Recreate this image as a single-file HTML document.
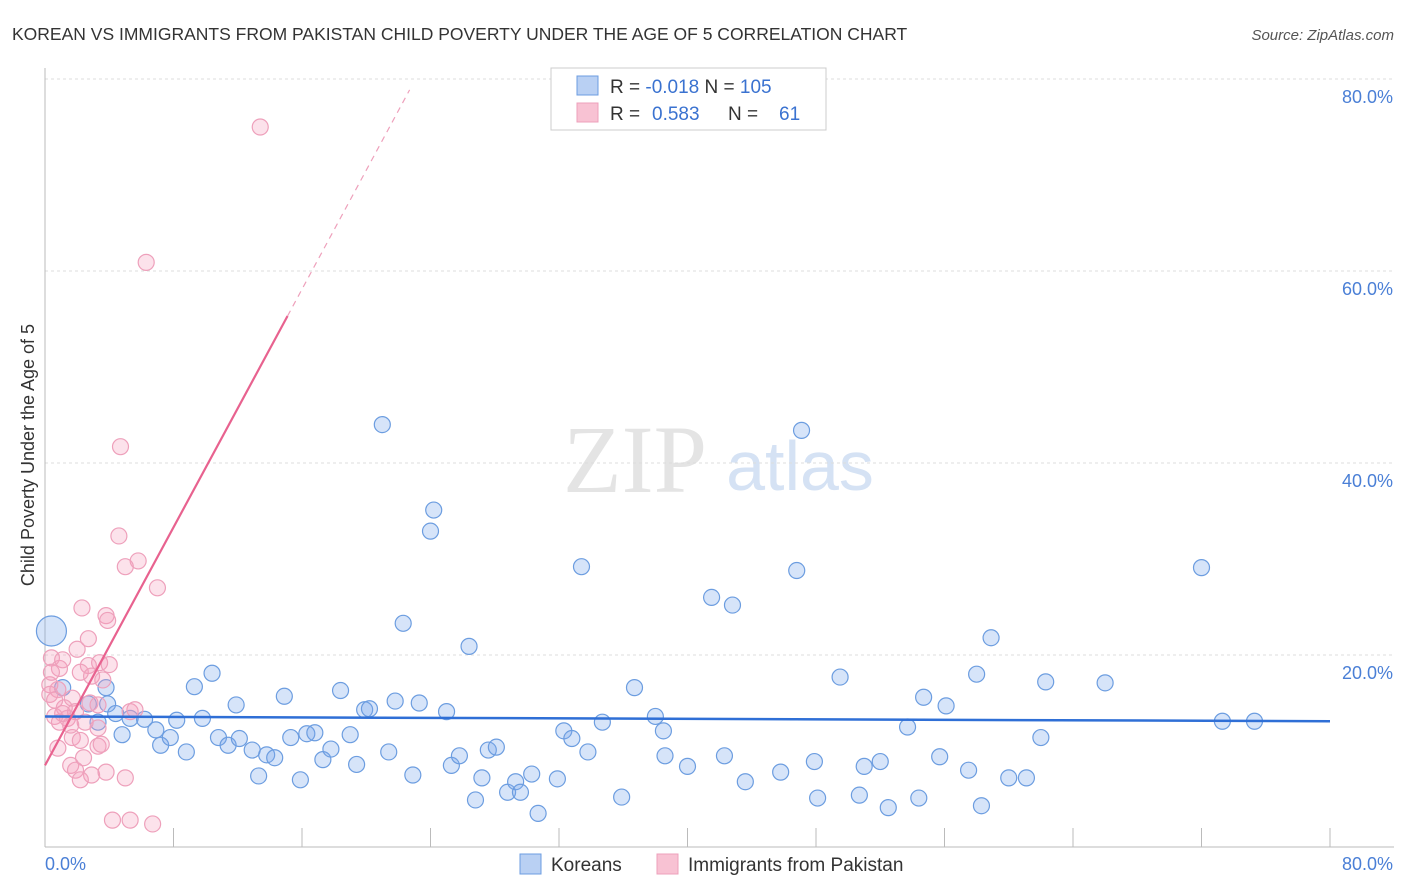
<!DOCTYPE html>
<html><head><meta charset="utf-8">
<style>
body{margin:0;background:#fff;font-family:"Liberation Sans",sans-serif;}
svg{display:block}
</style></head>
<body>
<svg id="chart" width="1406" height="892" xmlns="http://www.w3.org/2000/svg">
<text x="12" y="40" font-size="17.5" fill="#333">KOREAN VS IMMIGRANTS FROM PAKISTAN CHILD POVERTY UNDER THE AGE OF 5 CORRELATION CHART</text>
<text x="1394" y="40" font-size="15" fill="#555" font-style="italic" text-anchor="end">Source: ZipAtlas.com</text>
<text x="635" y="492" font-size="96" fill="#e4e4e4" font-family="Liberation Serif,serif" text-anchor="middle">ZIP</text>
<text x="800" y="490" font-size="70" fill="#d5e2f4" text-anchor="middle">atlas</text>
<g id="grid"></g>
<g id="marks"></g>
<text transform="translate(34,455) rotate(-90)" font-size="18" fill="#333" text-anchor="middle">Child Poverty Under the Age of 5</text>
<g>
<rect x="551" y="68" width="275" height="62" fill="#fff" stroke="#ccc"/>
<rect x="577" y="76" width="21" height="19" fill="#b9d0f3" stroke="#6c9de0"/>
<rect x="577" y="103" width="21" height="19" fill="#f8c2d3" stroke="#eea0bb"/>
<text x="610" y="93" font-size="19" fill="#333">R = <tspan fill="#3a72d0">-0.018</tspan>   N = <tspan fill="#3a72d0">105</tspan></text>
<text x="610" y="120" font-size="19" fill="#333">R =  <tspan fill="#3a72d0" x="652">0.583</tspan><tspan x="728">N =</tspan><tspan fill="#3a72d0" x="779">61</tspan></text>
</g>
<g>
<rect x="520" y="854" width="21" height="20" fill="#b9d0f3" stroke="#6c9de0"/>
<text x="551" y="871" font-size="19" fill="#333">Koreans</text>
<rect x="657" y="854" width="21" height="20" fill="#f8c2d3" stroke="#eea0bb"/>
<text x="688" y="871" font-size="19" fill="#333">Immigrants from Pakistan</text>
</g>
<text x="45" y="870" font-size="18" fill="#4a7fd6">0.0%</text>
<text x="1393" y="870" font-size="18" fill="#4a7fd6" text-anchor="end">80.0%</text>
</svg>
<script>
const yTicks=[20,40,60,80];
const xTickVals=[0,8,16,24,32,40,48,56,64,72,80];
const koreanX=[0.4,1.1,3.3,3.8,3.9,2.7,4.8,4.4,5.3,6.2,6.9,7.2,7.8,8.2,8.8,9.3,9.8,10.4,10.8,11.4,11.9,12.1,12.9,13.3,13.8,14.3,14.9,15.3,15.9,16.3,16.8,17.3,17.8,18.4,19.0,19.4,19.9,20.2,21.0,21.4,21.8,22.3,22.9,23.3,24.2,24.0,25.0,25.3,25.8,26.4,26.8,27.2,27.6,28.1,28.8,29.3,29.6,30.3,30.7,31.9,32.3,32.8,33.4,33.8,34.7,35.9,36.7,38.0,38.5,38.6,40.0,41.5,42.3,42.8,43.6,45.8,46.8,47.1,47.9,48.1,49.5,50.7,51.0,52.0,52.5,53.7,54.4,54.7,55.7,56.1,57.5,58.0,58.3,58.9,60.0,61.1,62.0,62.3,66.0,72.0,73.3,75.3];
const koreanY=[22.5,16.6,13.0,16.6,14.9,14.9,11.7,13.9,13.4,13.3,12.2,10.6,11.4,13.2,9.9,16.7,13.4,18.1,11.4,10.6,14.8,11.3,10.1,7.4,9.6,9.3,15.7,11.4,7.0,11.8,11.9,9.1,10.2,16.3,11.7,8.6,14.3,14.4,44.0,9.9,15.2,23.3,7.5,15.0,35.1,32.9,14.1,8.5,9.5,20.9,4.9,7.2,10.1,10.4,5.7,6.8,5.7,7.6,3.5,7.1,12.1,11.3,29.2,9.9,13.0,5.2,16.6,13.6,12.1,9.5,8.4,26.0,9.5,25.2,6.8,7.8,28.8,43.4,8.9,5.1,17.7,5.4,8.4,8.9,4.1,12.5,5.1,15.6,9.4,14.7,8.0,18.0,4.3,21.8,7.2,7.2,11.4,17.2,17.1,29.1,13.1,13.1];
const pakX=[13.4,6.3,4.7,4.6,5.8,5.0,7.0,2.3,3.8,3.9,2.7,2.0,0.4,3.4,4.0,2.7,0.9,2.2,2.9,3.6,0.3,0.8,1.7,2.8,3.3,1.2,1.9,0.6,1.4,0.9,3.3,5.3,1.7,2.2,0.8,3.3,2.4,1.6,1.9,2.9,3.8,5.0,4.2,5.3,6.7,0.3,0.4,1.1,2.5,1.6,3.5,0.6,5.6,2.2,1.1];
const pakY=[75.0,60.9,41.7,32.4,29.8,29.2,27.0,24.9,24.1,23.6,21.7,20.6,19.7,19.2,19.0,18.9,18.6,18.2,17.8,17.4,16.9,16.4,15.5,15.0,14.8,14.5,14.1,13.6,13.4,13.0,12.4,14.1,11.4,11.1,10.3,10.5,9.3,8.5,8.0,7.5,7.8,7.2,2.8,2.8,2.4,15.9,18.2,13.9,13.0,12.7,10.7,15.3,14.3,7.0,19.5];
const koreanTrend=[13.6,13.1];
const pakTrend=[8.5,3.1];
const NS="http://www.w3.org/2000/svg";
const sx=v=>45+v*(1285/80);
const sy=v=>847-v*9.6;
function mk(tag,attrs,parent){const e=document.createElementNS(NS,tag);for(const k in attrs)e.setAttribute(k,attrs[k]);parent.appendChild(e);return e;}
const grid=document.getElementById('grid'),marks=document.getElementById('marks');
yTicks.forEach(t=>{
 const l=mk('line',{x1:45,x2:1394,y1:sy(t),y2:sy(t),stroke:'#ddd','stroke-dasharray':'3,3'},grid);
 
 
 const tx=mk('text',{x:1393,y:sy(t)+24,'font-size':18,fill:'#4a7fd6','text-anchor':'end'},grid);
 tx.textContent=t.toFixed(1)+'%';
 
 
});
const ax=mk('line',{x1:45,x2:1394,y1:847,y2:847,stroke:'#bbb'},grid);


const ay=mk('line',{x1:45,x2:45,y1:68,y2:847,stroke:'#bbb'},grid);


xTickVals.forEach(t=>{
 const l=mk('line',{x1:sx(t),x2:sx(t),y1:828,y2:847,stroke:'#bbb'},grid);
 
 
});
koreanX.forEach((x,i)=>{
 const c=mk('circle',{cx:sx(x),cy:sy(koreanY[i]),r:i===0?15:8,fill:'rgba(120,165,235,0.3)',stroke:'#6c9de0','stroke-width':1.2},marks);
 
 
});
pakX.forEach((x,i)=>{
 const c=mk('circle',{cx:sx(x),cy:sy(pakY[i]),r:8,fill:'rgba(245,160,190,0.3)',stroke:'#eea0bb','stroke-width':1.2},marks);
 
 
});
const kt=mk('line',{x1:sx(0),y1:sy(koreanTrend[0]),x2:sx(80),y2:sy(koreanTrend[1]),stroke:'#2f6fd6','stroke-width':2.5},marks);


const pe=15.1,pd=22.7;
const pt=mk('line',{x1:sx(0),y1:sy(pakTrend[0]),x2:sx(pe),y2:sy(pakTrend[0]+pakTrend[1]*pe),stroke:'#e8628f','stroke-width':2.2},marks);


const pdl=mk('line',{x1:sx(pe),y1:sy(pakTrend[0]+pakTrend[1]*pe),x2:sx(pd),y2:sy(pakTrend[0]+pakTrend[1]*pd),stroke:'#eea0bb','stroke-width':1.2,'stroke-dasharray':'6,5'},marks);


</script>
</body></html>
